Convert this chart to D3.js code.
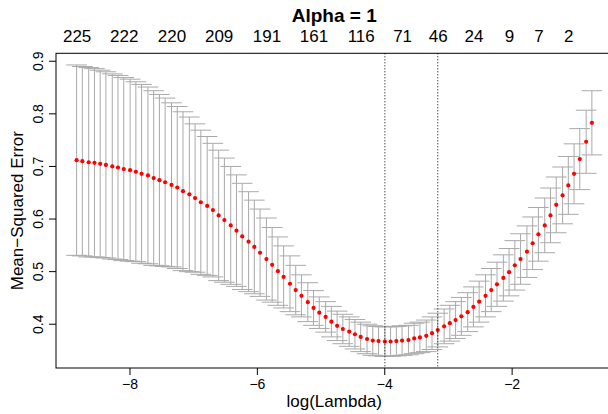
<!DOCTYPE html>
<html>
<head>
<meta charset="utf-8">
<script src="https://cdn.jsdelivr.net/npm/d3@7"></script>
<style>
  body { margin: 0; background: #fff; }
  svg text { font-family: "Liberation Sans", Arial, sans-serif; fill: #000; }
</style>
</head>
<body>
<svg id="chart"></svg>
<script>
// cv.glmnet output (lasso, alpha = 1)
const logLambda = [
  -8.83, -8.74, -8.64, -8.55, -8.46, -8.37, -8.27, -8.18, -8.09, -7.99,
  -7.90, -7.81, -7.71, -7.62, -7.53, -7.44, -7.34, -7.25, -7.16, -7.06,
  -6.97, -6.88, -6.78, -6.69, -6.60, -6.51, -6.41, -6.32, -6.23, -6.13,
  -6.04, -5.95, -5.85, -5.76, -5.67, -5.58, -5.48, -5.39, -5.30, -5.20,
  -5.11, -5.02, -4.92, -4.83, -4.74, -4.65, -4.55, -4.46, -4.37, -4.27,
  -4.18, -4.09, -3.99, -3.90, -3.81, -3.72, -3.62, -3.53, -3.44, -3.34,
  -3.25, -3.16, -3.06, -2.97, -2.88, -2.79, -2.69, -2.60, -2.51, -2.41,
  -2.32, -2.23, -2.13, -2.04, -1.95, -1.86, -1.76, -1.67, -1.58, -1.48,
  -1.39, -1.30, -1.20, -1.11, -1.02, -0.93, -0.83, -0.74
];

const cvm = [
  0.711, 0.709, 0.707, 0.706, 0.704, 0.702, 0.699, 0.697, 0.694, 0.692,
  0.689, 0.685, 0.682, 0.677, 0.673, 0.669, 0.664, 0.659, 0.652, 0.646,
  0.639, 0.631, 0.624, 0.616, 0.606, 0.597, 0.587, 0.577, 0.566, 0.556,
  0.546, 0.535, 0.523, 0.512, 0.500, 0.489, 0.476, 0.464, 0.453, 0.441,
  0.430, 0.421, 0.413, 0.404, 0.396, 0.390, 0.385, 0.380, 0.375, 0.371,
  0.368, 0.367, 0.3660, 0.3662, 0.367, 0.368, 0.369, 0.372, 0.374, 0.377,
  0.382, 0.388, 0.395, 0.401, 0.407, 0.414, 0.422, 0.432, 0.442, 0.453,
  0.464, 0.475, 0.487, 0.498, 0.511, 0.523, 0.537, 0.553, 0.570, 0.587,
  0.606, 0.626, 0.644, 0.663, 0.685, 0.713, 0.746, 0.782
];

const cvsd = [
  0.181, 0.180, 0.180, 0.179, 0.178, 0.177, 0.176, 0.175, 0.174, 0.173,
  0.171, 0.170, 0.168, 0.166, 0.163, 0.160, 0.156, 0.154, 0.151, 0.147,
  0.141, 0.137, 0.132, 0.127, 0.124, 0.118, 0.112, 0.106, 0.101, 0.095,
  0.089, 0.083, 0.078, 0.071, 0.065, 0.059, 0.053, 0.047, 0.040, 0.037,
  0.033, 0.030, 0.029, 0.029, 0.028, 0.028, 0.028, 0.028, 0.028, 0.028,
  0.028, 0.028, 0.028, 0.028, 0.028, 0.028, 0.028, 0.029, 0.029, 0.030,
  0.031, 0.032, 0.033, 0.034, 0.035, 0.036, 0.037, 0.038, 0.039, 0.040,
  0.041, 0.042, 0.044, 0.045, 0.047, 0.048, 0.049, 0.050, 0.051, 0.052,
  0.052, 0.053, 0.054, 0.055, 0.057, 0.058, 0.060, 0.061
];

// number of nonzero coefs shown on the top axis (index into logLambda)
const nzIdx = [0, 8, 16, 24, 32, 40, 48, 55, 61, 67, 73, 78, 83];
const nzLabels = ['225', '222', '220', '209', '191', '161', '116', '71', '46', '24', '9', '7', '2'];

const xTicks = [-8, -6, -4, -2];
const yTicks = [0.4, 0.5, 0.6, 0.7, 0.8, 0.9];

const w = 608, h = 414;
const plot = { left: 56, right: 612.5, top: 53.3, bottom: 368 };

const data = logLambda.map((l, i) => ({
  l: l, m: cvm[i], up: cvm[i] + cvsd[i], lo: cvm[i] - cvsd[i]
}));

// R style 4% padding on the ranges
const pad = (ext) => { const s = ext[1] - ext[0]; return [ext[0] - 0.04 * s, ext[1] + 0.04 * s]; };
const xExt = d3.extent(logLambda);
const yExt = [d3.min(data, d => d.lo), d3.max(data, d => d.up)];

const x = d3.scaleLinear().domain(pad(xExt)).range([plot.left, plot.right]);
const y = d3.scaleLinear().domain(pad(yExt)).range([plot.bottom, plot.top]);

const svg = d3.select('#chart').attr('width', w).attr('height', h);

// error bars
const barw = (xExt[1] - xExt[0]) * 0.02;
const bars = svg.append('g').attr('stroke', '#a9a9a9').attr('stroke-width', 1);
bars.selectAll('.vbar').data(data).join('line')
  .attr('class', 'vbar')
  .attr('x1', d => x(d.l)).attr('x2', d => x(d.l))
  .attr('y1', d => y(d.up)).attr('y2', d => y(d.lo));
bars.selectAll('.capu').data(data).join('line')
  .attr('class', 'capu')
  .attr('x1', d => x(d.l - barw)).attr('x2', d => x(d.l + barw))
  .attr('y1', d => y(d.up)).attr('y2', d => y(d.up));
bars.selectAll('.capl').data(data).join('line')
  .attr('class', 'capl')
  .attr('x1', d => x(d.l - barw)).attr('x2', d => x(d.l + barw))
  .attr('y1', d => y(d.lo)).attr('y2', d => y(d.lo));

// points
svg.append('g').selectAll('circle').data(data).join('circle')
  .attr('cx', d => x(d.l))
  .attr('cy', d => y(d.m))
  .attr('r', 2.1)
  .attr('fill', '#ff0000');

// lambda.min and lambda.1se
const iMin = d3.minIndex(cvm);
const thr = cvm[iMin] + cvsd[iMin];
const i1se = d3.max(d3.range(cvm.length).filter(i => cvm[i] <= thr));
svg.append('g').selectAll('line').data([logLambda[iMin], logLambda[i1se]]).join('line')
  .attr('x1', d => x(d)).attr('x2', d => x(d))
  .attr('y1', plot.top).attr('y2', plot.bottom)
  .attr('stroke', '#000').attr('stroke-width', 1)
  .attr('stroke-dasharray', '1,2');

// box
svg.append('rect')
  .attr('x', plot.left).attr('y', plot.top)
  .attr('width', plot.right - plot.left).attr('height', plot.bottom - plot.top)
  .attr('fill', 'none').attr('stroke', '#000').attr('stroke-width', 1);

// bottom axis
const xAxis = svg.append('g')
  .attr('transform', `translate(0, ${plot.bottom})`)
  .call(d3.axisBottom(x).tickValues(xTicks).tickSize(7).tickPadding(4).tickFormat(d3.format('d')));
xAxis.select('.domain').remove();
xAxis.selectAll('.tick line').attr('stroke', '#000');
xAxis.selectAll('.tick text').attr('font-size', 14).attr('dy', '0.71em');

// left axis, labels parallel to the axis
const yAxis = svg.append('g')
  .attr('transform', `translate(${plot.left}, 0)`)
  .call(d3.axisLeft(y).tickValues(yTicks).tickSize(7).tickFormat(d3.format('.1f')));
yAxis.select('.domain').remove();
yAxis.selectAll('.tick line').attr('stroke', '#000');
yAxis.selectAll('.tick text')
  .attr('font-size', 14)
  .attr('transform', 'rotate(-90)')
  .attr('x', 0).attr('y', -13).attr('dy', 0)
  .attr('text-anchor', 'middle');

// top axis: number of nonzero coefficients
const topAxis = svg.append('g')
  .attr('transform', `translate(0, ${plot.top})`)
  .call(d3.axisTop(x).tickValues(nzIdx.map(i => logLambda[i])).tickSize(0).tickPadding(11)
    .tickFormat((d, i) => nzLabels[i]));
topAxis.select('.domain').remove();
topAxis.selectAll('.tick text').attr('font-size', 17);

// titles
const cx = (plot.left + plot.right) / 2;
svg.append('text')
  .attr('x', cx).attr('y', 22)
  .attr('text-anchor', 'middle')
  .attr('font-size', 19).attr('font-weight', 'bold')
  .text('Alpha = 1');

svg.append('text')
  .attr('x', cx).attr('y', 407)
  .attr('text-anchor', 'middle')
  .attr('font-size', 17)
  .text('log(Lambda)');

svg.append('text')
  .attr('transform', `translate(23, ${(plot.top + plot.bottom) / 2}) rotate(-90)`)
  .attr('text-anchor', 'middle')
  .attr('font-size', 17)
  .text('Mean\u2212Squared Error');
</script>
</body>
</html>
